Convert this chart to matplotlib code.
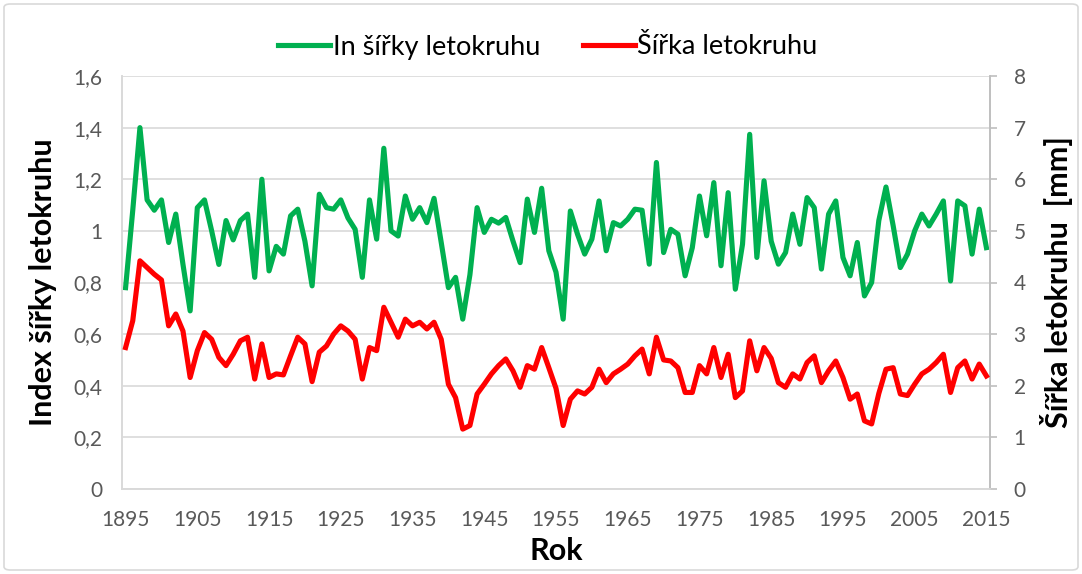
import matplotlib.pyplot as plt
from matplotlib.patches import FancyBboxPatch
from matplotlib.ticker import FuncFormatter

# years 1895 - 2015
years = list(range(1895, 2016))

# index of ring width (left axis)
index_values = [
    0.78, 1.08, 1.40, 1.12, 1.08, 1.12, 0.955, 1.065, 0.87, 0.69,
    1.09, 1.12, 1.00, 0.87, 1.04, 0.965, 1.04, 1.065, 0.82, 1.20,
    0.845, 0.94, 0.91, 1.058, 1.084, 0.96, 0.787, 1.142, 1.09, 1.084,
    1.12, 1.05, 1.006, 0.82, 1.12, 0.968, 1.32, 1.00, 0.98, 1.135,
    1.045, 1.09, 1.032, 1.126, 0.955, 0.78, 0.82, 0.658, 0.83, 1.09,
    0.994, 1.045, 1.03, 1.052, 0.961, 0.877, 1.123, 0.994, 1.165, 0.923,
    0.84, 0.658, 1.077, 0.987, 0.91, 0.968, 1.116, 0.923, 1.032, 1.019,
    1.045, 1.084, 1.08, 0.871, 1.265, 0.916, 1.006, 0.987, 0.826, 0.935,
    1.135, 0.981, 1.187, 0.865, 1.148, 0.774, 0.948, 1.374, 0.897, 1.194,
    0.96, 0.871, 0.916, 1.065, 0.948, 1.129, 1.09, 0.852, 1.065, 1.116,
    0.897, 0.826, 0.955, 0.748, 0.80, 1.04, 1.17, 1.02, 0.858, 0.91,
    1.00, 1.065, 1.019, 1.065, 1.116, 0.806, 1.116, 1.097, 0.91, 1.084,
    0.935,
]

# ring width in mm (right axis)
width_mm = [
    2.74, 3.26, 4.42, 4.29, 4.16, 4.05, 3.16, 3.39, 3.06, 2.16,
    2.68, 3.03, 2.90, 2.55, 2.39, 2.61, 2.87, 2.94, 2.13, 2.81,
    2.16, 2.23, 2.21, 2.58, 2.94, 2.81, 2.08, 2.65, 2.77, 3.00,
    3.16, 3.06, 2.90, 2.13, 2.74, 2.68, 3.52, 3.23, 2.94, 3.29,
    3.16, 3.23, 3.10, 3.23, 2.90, 2.03, 1.77, 1.16, 1.23, 1.84,
    2.03, 2.23, 2.39, 2.52, 2.29, 1.97, 2.39, 2.32, 2.74, 2.35,
    1.95, 1.23, 1.74, 1.90, 1.84, 1.97, 2.32, 2.06, 2.23, 2.32,
    2.42, 2.58, 2.71, 2.23, 2.94, 2.50, 2.48, 2.35, 1.87, 1.87,
    2.39, 2.23, 2.74, 2.16, 2.61, 1.77, 1.90, 2.87, 2.29, 2.74,
    2.53, 2.06, 1.97, 2.23, 2.13, 2.45, 2.58, 2.06, 2.29, 2.48,
    2.16, 1.74, 1.84, 1.32, 1.26, 1.85, 2.32, 2.35, 1.84, 1.81,
    2.03, 2.23, 2.32, 2.45, 2.61, 1.87, 2.35, 2.48, 2.13, 2.42,
    2.19,
]

tick_years = [1895, 1905, 1915, 1925, 1935, 1945, 1955, 1965, 1975, 1985, 1995, 2005, 2015]

green = "#00B050"
red = "#FF0000"
grey_text = "#595959"
grid_col = "#D9D9D9"

plt.rcParams['font.family'] = ['Lato', 'DejaVu Sans']

fig = plt.figure(figsize=(10.82, 5.74), dpi=100)
ax = fig.add_axes([122 / 1082, 1 - 489 / 574, 868 / 1082, 413 / 574])
ax2 = ax.twinx()

pos = list(range(len(years)))
ax.plot(pos, index_values, color=green, lw=3.7, solid_joinstyle='round',
        label="In šířky letokruhu", zorder=3)
ax2.plot(pos, width_mm, color=red, lw=3.7, solid_joinstyle='round',
         label="Šířka letokruhu", zorder=3)

ax.set_xlim(-0.5, len(years) - 0.5)
ax.set_ylim(0, 1.6)
ax2.set_ylim(0, 8)
ax.set_yticks([0, 0.2, 0.4, 0.6, 0.8, 1.0, 1.2, 1.4, 1.6])
ax2.set_yticks(range(0, 9))
ax.yaxis.set_major_formatter(FuncFormatter(lambda v, p: ("%g" % round(v, 1)).replace(".", ",")))

ax.set_xticks([years.index(y) for y in tick_years])
ax.set_xticklabels([str(y) for y in tick_years])

ax.grid(axis='y', color=grid_col, lw=1.2)
ax.set_axisbelow(True)

for a in (ax, ax2):
    a.spines['top'].set_visible(False)
    a.spines['left'].set_color(grid_col)
    a.spines['bottom'].set_color(grid_col)
    a.spines['right'].set_color("#BFBFBF")
    a.spines['left'].set_linewidth(1.2)
    a.spines['bottom'].set_linewidth(1.2)
    a.spines['right'].set_linewidth(1.2)

ax.tick_params(axis='y', length=0, pad=14, labelsize=15, labelcolor=grey_text)
ax.tick_params(axis='x', length=0, pad=15, labelsize=15, labelcolor=grey_text)
ax2.tick_params(axis='y', length=5, width=1.2, color="#BFBFBF", pad=12,
                labelsize=15, labelcolor=grey_text)

ax.set_ylabel("Index šířky letokruhu", fontsize=22, fontweight='bold', labelpad=12)
ax2.set_ylabel("Šířka letokruhu  [mm]", fontsize=22, fontweight='bold', labelpad=10)
ax.set_xlabel("Rok", fontsize=22, fontweight='bold', labelpad=5)

h1, l1 = ax.get_legend_handles_labels()
h2, l2 = ax2.get_legend_handles_labels()
fig.legend(h1 + h2, l1 + l2, loc='center', bbox_to_anchor=(548 / 1082, 1 - 47 / 574),
           ncol=2, frameon=False, fontsize=19.5, handlelength=1.9, handletextpad=0.1,
           columnspacing=1.6)

# chart border
fig.patches.append(FancyBboxPatch((4 / 1082, 4 / 574), 1 - 8 / 1082, 1 - 8 / 574,
                                  boxstyle="round,pad=0,rounding_size=0.006",
                                  transform=fig.transFigure, fill=False,
                                  edgecolor="#D9D9D9", lw=1.2))

fig.savefig("out.png", dpi=100)
